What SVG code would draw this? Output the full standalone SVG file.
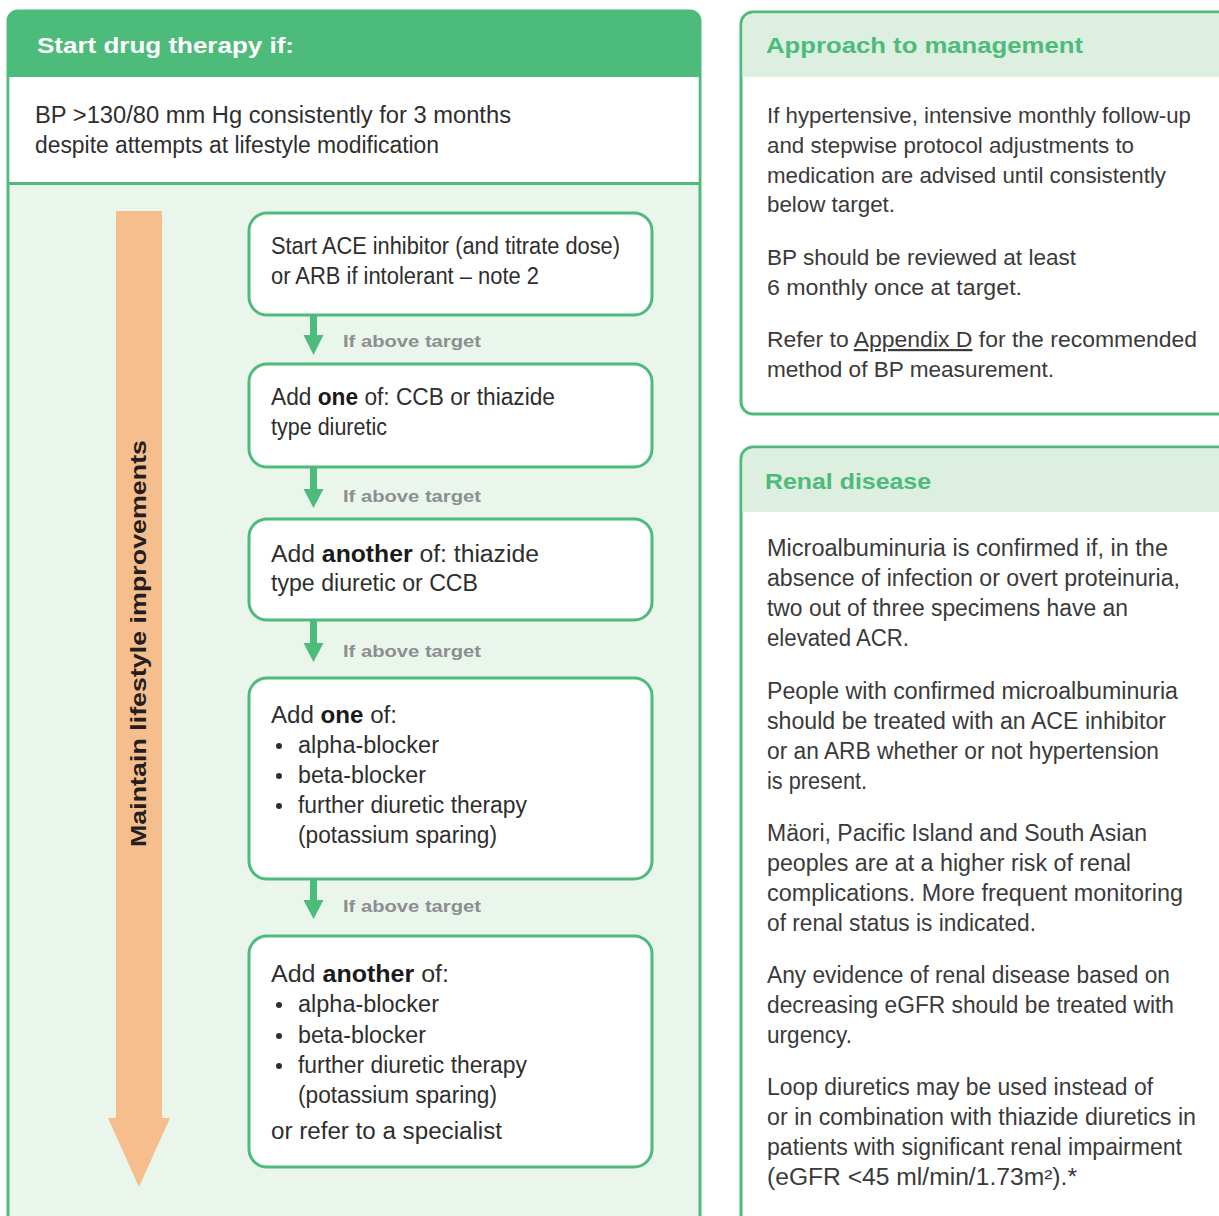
<svg xmlns="http://www.w3.org/2000/svg" width="1219" height="1216" viewBox="0 0 1219 1216">
<defs>
<style>
.pan{fill:#ffffff;stroke:#4dbb7a;stroke-width:3}
.box{fill:#ffffff;stroke:#4dbb7a;stroke-width:3}
.bt{font-family:"Liberation Sans",Arial,sans-serif;font-size:23px;fill:#2e2e2e}
.rt{font-family:"Liberation Sans",Arial,sans-serif;font-size:22px;fill:#3a3a3a}
.rn{font-family:"Liberation Sans",Arial,sans-serif;font-size:23px;fill:#3a3a3a}
.b{font-weight:bold;fill:#1a1a1a}
.lbl{font-family:"Liberation Sans",Arial,sans-serif;font-size:17px;font-weight:bold;fill:#8c8e90}
.hd{font-family:"Liberation Sans",Arial,sans-serif;font-size:22px;font-weight:bold}
.conn{fill:#4dbb7a}
</style>
</defs>
<rect width="1219" height="1216" fill="#ffffff"/>

<g id="left-panel">
<rect x="8" y="11" width="692" height="1230" rx="10" fill="#eaf5ec" stroke="#4dbb7a" stroke-width="3"/>
<path d="M9.5,77 H698.5 V183 H9.5 Z" fill="#ffffff"/>
<path d="M8,77 V21 A10,10 0 0 1 18,11 H690 A10,10 0 0 1 700,21 V77 Z" fill="#4dbb7a"/>
<line x1="8" y1="183.5" x2="700" y2="183.5" stroke="#4dbb7a" stroke-width="3"/>
<text class="hd" x="37" y="53" fill="#ffffff" textLength="257" lengthAdjust="spacingAndGlyphs">Start drug therapy if:</text>
<text class="bt" x="35" y="123" textLength="476" lengthAdjust="spacingAndGlyphs">BP &gt;130/80 mm Hg consistently for 3 months</text>
<text class="bt" x="35" y="153" textLength="404" lengthAdjust="spacingAndGlyphs">despite attempts at lifestyle modification</text>
</g>

<g id="lifestyle-arrow">
<path d="M116,211 H162 V1118 H170 L139,1187 L108,1118 H116 Z" fill="#f6be8d"/>
<text class="hd" x="0" y="0" fill="#231f20" transform="translate(146,847) rotate(-90)" textLength="407" lengthAdjust="spacingAndGlyphs">Maintain lifestyle improvements</text>
</g>

<g id="box1">
<rect class="box" x="249" y="213" width="403" height="102" rx="18"/>
<text class="bt" x="271" y="254" textLength="349" lengthAdjust="spacingAndGlyphs">Start ACE inhibitor (and titrate dose)</text>
<text class="bt" x="271" y="284" textLength="268" lengthAdjust="spacingAndGlyphs">or ARB if intolerant – note 2</text>
</g>

<g id="box2">
<rect class="box" x="249" y="364" width="403" height="103" rx="18"/>
<text class="bt" x="271" y="405" textLength="284" lengthAdjust="spacingAndGlyphs">Add <tspan class="b">one</tspan> of: CCB or thiazide</text>
<text class="bt" x="271" y="435" textLength="116" lengthAdjust="spacingAndGlyphs">type diuretic</text>
</g>

<g id="box3">
<rect class="box" x="249" y="519" width="403" height="101" rx="18"/>
<text class="bt" x="271" y="562" textLength="268" lengthAdjust="spacingAndGlyphs">Add <tspan class="b">another</tspan> of: thiazide</text>
<text class="bt" x="271" y="591" textLength="207" lengthAdjust="spacingAndGlyphs">type diuretic or CCB</text>
</g>

<g id="box4">
<rect class="box" x="249" y="678" width="403" height="201" rx="18"/>
<text class="bt" x="271" y="723" textLength="126" lengthAdjust="spacingAndGlyphs">Add <tspan class="b">one</tspan> of:</text>
<circle cx="279" cy="746" r="3" fill="#2e2e2e"/>
<text class="bt" x="298" y="753" textLength="141" lengthAdjust="spacingAndGlyphs">alpha-blocker</text>
<circle cx="279" cy="776" r="3" fill="#2e2e2e"/>
<text class="bt" x="298" y="783" textLength="128" lengthAdjust="spacingAndGlyphs">beta-blocker</text>
<circle cx="279" cy="806" r="3" fill="#2e2e2e"/>
<text class="bt" x="298" y="813" textLength="229" lengthAdjust="spacingAndGlyphs">further diuretic therapy</text>
<text class="bt" x="298" y="843" textLength="199" lengthAdjust="spacingAndGlyphs">(potassium sparing)</text>
</g>

<g id="box5">
<rect class="box" x="249" y="936" width="403" height="231" rx="18"/>
<text class="bt" x="271" y="982" textLength="178" lengthAdjust="spacingAndGlyphs">Add <tspan class="b">another</tspan> of:</text>
<circle cx="279" cy="1005" r="3" fill="#2e2e2e"/>
<text class="bt" x="298" y="1012" textLength="141" lengthAdjust="spacingAndGlyphs">alpha-blocker</text>
<circle cx="279" cy="1036" r="3" fill="#2e2e2e"/>
<text class="bt" x="298" y="1043" textLength="128" lengthAdjust="spacingAndGlyphs">beta-blocker</text>
<circle cx="279" cy="1066" r="3" fill="#2e2e2e"/>
<text class="bt" x="298" y="1073" textLength="229" lengthAdjust="spacingAndGlyphs">further diuretic therapy</text>
<text class="bt" x="298" y="1103" textLength="199" lengthAdjust="spacingAndGlyphs">(potassium sparing)</text>
<text class="bt" x="271" y="1139" textLength="231" lengthAdjust="spacingAndGlyphs">or refer to a specialist</text>
</g>

<g id="connectors">
<path class="conn" d="M310,316 H317 V335 H323.5 L313.5,355 L303.5,335 H310 Z"/>
<text class="lbl" x="343" y="347" textLength="138" lengthAdjust="spacingAndGlyphs">If above target</text>
<path class="conn" d="M310,468 H317 V489 H323.5 L313.5,508 L303.5,489 H310 Z"/>
<text class="lbl" x="343" y="502" textLength="138" lengthAdjust="spacingAndGlyphs">If above target</text>
<path class="conn" d="M310,621 H317 V643 H323.5 L313.5,662 L303.5,643 H310 Z"/>
<text class="lbl" x="343" y="657" textLength="138" lengthAdjust="spacingAndGlyphs">If above target</text>
<path class="conn" d="M310,880 H317 V900 H323.5 L313.5,919 L303.5,900 H310 Z"/>
<text class="lbl" x="343" y="912" textLength="138" lengthAdjust="spacingAndGlyphs">If above target</text>
</g>

<g id="approach-panel">
<rect class="pan" x="741" y="12" width="500" height="402" rx="12"/>
<path d="M742.5,77 V24 A10.5,10.5 0 0 1 753,13.5 H1219 V77 Z" fill="#dcefe0"/>
<text class="hd" x="766" y="53" fill="#4dbb7a" textLength="317" lengthAdjust="spacingAndGlyphs">Approach to management</text>
<text class="rt" x="767" y="123" textLength="424" lengthAdjust="spacingAndGlyphs">If hypertensive, intensive monthly follow-up</text>
<text class="rt" x="767" y="153" textLength="367" lengthAdjust="spacingAndGlyphs">and stepwise protocol adjustments to</text>
<text class="rt" x="767" y="183" textLength="399" lengthAdjust="spacingAndGlyphs">medication are advised until consistently</text>
<text class="rt" x="767" y="212" textLength="128" lengthAdjust="spacingAndGlyphs">below target.</text>
<text class="rt" x="767" y="265" textLength="309" lengthAdjust="spacingAndGlyphs">BP should be reviewed at least</text>
<text class="rt" x="767" y="295" textLength="255" lengthAdjust="spacingAndGlyphs">6 monthly once at target.</text>
<text class="rt" x="767" y="347" textLength="430" lengthAdjust="spacingAndGlyphs">Refer to <tspan text-decoration="underline">Appendix D</tspan> for the recommended</text>
<text class="rt" x="767" y="377" textLength="287" lengthAdjust="spacingAndGlyphs">method of BP measurement.</text>
</g>

<g id="renal-panel">
<rect class="pan" x="741" y="447" width="500" height="800" rx="12"/>
<path d="M742.5,512 V459 A10.5,10.5 0 0 1 753,448.5 H1219 V512 Z" fill="#dcefe0"/>
<text class="hd" x="765" y="489" fill="#4dbb7a" textLength="166" lengthAdjust="spacingAndGlyphs">Renal disease</text>
<text class="rn" x="767" y="556" textLength="401" lengthAdjust="spacingAndGlyphs">Microalbuminuria is confirmed if, in the</text>
<text class="rn" x="767" y="586" textLength="413" lengthAdjust="spacingAndGlyphs">absence of infection or overt proteinuria,</text>
<text class="rn" x="767" y="616" textLength="361" lengthAdjust="spacingAndGlyphs">two out of three specimens have an</text>
<text class="rn" x="767" y="646" textLength="142" lengthAdjust="spacingAndGlyphs">elevated ACR.</text>
<text class="rn" x="767" y="699" textLength="411" lengthAdjust="spacingAndGlyphs">People with confirmed microalbuminuria</text>
<text class="rn" x="767" y="729" textLength="399" lengthAdjust="spacingAndGlyphs">should be treated with an ACE inhibitor</text>
<text class="rn" x="767" y="759" textLength="392" lengthAdjust="spacingAndGlyphs">or an ARB whether or not hypertension</text>
<text class="rn" x="767" y="789" textLength="100" lengthAdjust="spacingAndGlyphs">is present.</text>
<text class="rn" x="767" y="841" textLength="380" lengthAdjust="spacingAndGlyphs">Mäori, Pacific Island and South Asian</text>
<text class="rn" x="767" y="871" textLength="364" lengthAdjust="spacingAndGlyphs">peoples are at a higher risk of renal</text>
<text class="rn" x="767" y="901" textLength="416" lengthAdjust="spacingAndGlyphs">complications. More frequent monitoring</text>
<text class="rn" x="767" y="931" textLength="269" lengthAdjust="spacingAndGlyphs">of renal status is indicated.</text>
<text class="rn" x="767" y="983" textLength="403" lengthAdjust="spacingAndGlyphs">Any evidence of renal disease based on</text>
<text class="rn" x="767" y="1013" textLength="407" lengthAdjust="spacingAndGlyphs">decreasing eGFR should be treated with</text>
<text class="rn" x="767" y="1043" textLength="85" lengthAdjust="spacingAndGlyphs">urgency.</text>
<text class="rn" x="767" y="1095" textLength="386" lengthAdjust="spacingAndGlyphs">Loop diuretics may be used instead of</text>
<text class="rn" x="767" y="1125" textLength="429" lengthAdjust="spacingAndGlyphs">or in combination with thiazide diuretics in</text>
<text class="rn" x="767" y="1155" textLength="415" lengthAdjust="spacingAndGlyphs">patients with significant renal impairment</text>
<text class="rn" x="767" y="1185" textLength="310" lengthAdjust="spacingAndGlyphs">(eGFR &lt;45 ml/min/1.73m²).*</text>
</g>
</svg>
